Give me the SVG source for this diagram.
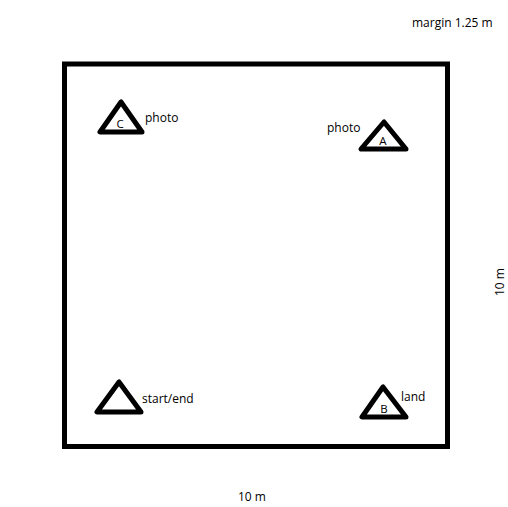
<svg xmlns="http://www.w3.org/2000/svg" width="508" height="507" viewBox="0 0 508 507">
<style>
text{font-family:"Open Sans","Noto Sans","DejaVu Sans",sans-serif;font-size:12px;fill:#000}
.tri{fill:none;stroke:#000;stroke-width:5;stroke-linejoin:round}
.lbl{font-size:11.5px;text-anchor:middle}
</style>
<rect width="508" height="507" fill="#fff"/>
<g id="field"><rect x="64.5" y="64" width="383" height="382.5" fill="none" stroke="#000" stroke-width="5"/></g>
<g id="nodeC"><polygon class="tri" points="121,102 100,132 142,132"/><text class="lbl" x="120" y="128">C</text><text x="145" y="122">photo</text></g>
<g id="nodeA"><polygon class="tri" points="384,122 361,149 406,149"/><text class="lbl" x="383" y="145">A</text><text x="327" y="132">photo</text></g>
<g id="nodeStart"><polygon class="tri" points="119,382 97,412 141,412"/><text x="142" y="403">start/end</text></g>
<g id="nodeB"><polygon class="tri" points="383,387 362,417 406,417"/><text class="lbl" x="384" y="413">B</text><text x="401" y="401">land</text></g>
<g id="connectors"/>
<text x="412" y="27">margin 1.25 m</text>
<text x="238" y="501">10 m</text>
<text transform="translate(504,296) rotate(-90)">10 m</text>
</svg>
